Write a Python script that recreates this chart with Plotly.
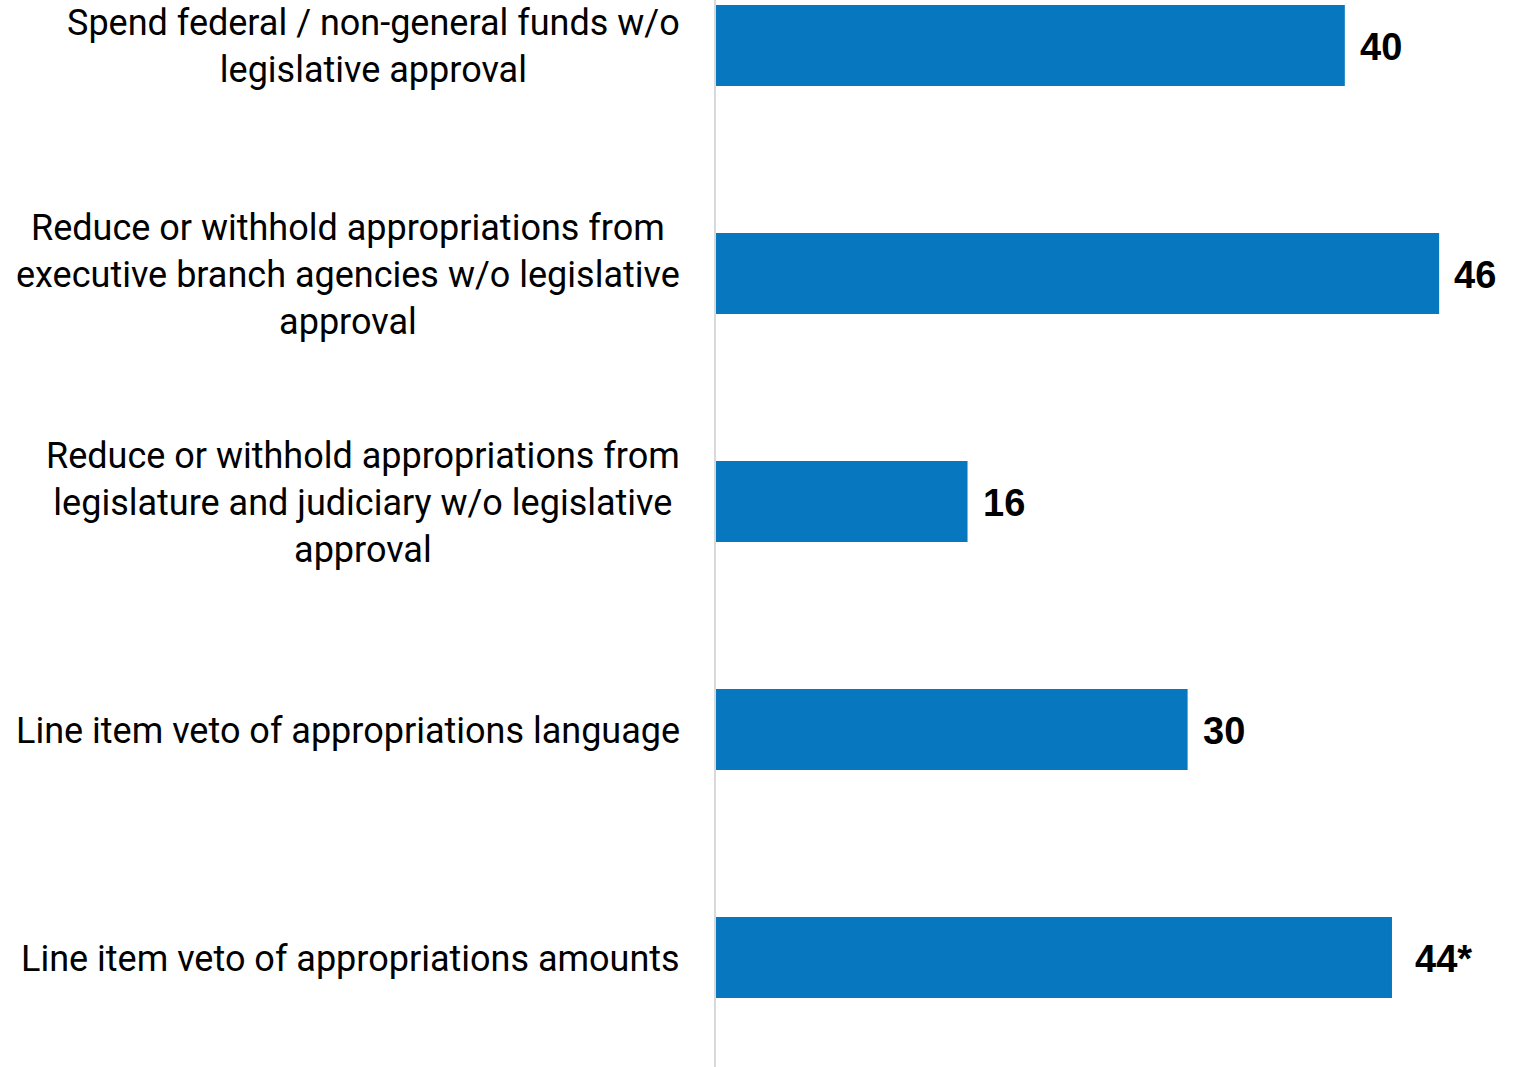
import plotly.graph_objects as go

categories = [
    "Spend federal / non-general funds w/o<br>legislative approval",
    "Reduce or withhold appropriations from<br>executive branch agencies w/o legislative<br>approval",
    "Reduce or withhold appropriations from<br>legislature and judiciary w/o legislative<br>approval",
    "Line item veto of appropriations language",
    "Line item veto of appropriations amounts",
]
values = [40, 46, 16, 30, 43]
value_labels = ["40", "46", "16", "30", "44*"]

BAR_COLOR = "#0777BF"

fig = go.Figure()
fig.add_trace(go.Bar(
    x=values,
    y=list(range(len(categories))),
    orientation="h",
    marker=dict(color=BAR_COLOR, line=dict(width=0)),
    hoverinfo="skip",
))

annotations = []
for i, (cat, v, lab) in enumerate(zip(categories, values, value_labels)):
    annotations.append(dict(
        x=0, xref="paper", y=i, yref="y",
        text=cat, showarrow=False, xanchor="right", yanchor="middle",
        align="center", xshift=-34, yshift=-1,
        font=dict(family="Roboto", size=36, color="#000000"),
    ))
    annotations.append(dict(
        x=v, xref="x", y=i, yref="y",
        text="<b>" + lab + "</b>", showarrow=False, xanchor="left", yanchor="middle",
        xshift=13 if not lab.endswith("*") else 21,
        yshift=-1,
        font=dict(family="Liberation Sans", size=38, color="#000000"),
    ))

fig.update_layout(
    width=1519, height=1067,
    margin=dict(l=716, r=0, t=0, b=0),
    paper_bgcolor="white", plot_bgcolor="white",
    bargap=0.645,
    showlegend=False,
    annotations=annotations,
    xaxis=dict(range=[0, 51.08], showgrid=False, zeroline=False, showticklabels=False, showline=False),
    yaxis=dict(range=[4.48, -0.1996], showgrid=False, zeroline=False, showticklabels=False,
               showline=True, linecolor="#D9D9D9", linewidth=2, ticks=""),
)

fig.write_html("out.html", config={"displayModeBar": False},
               post_script="document.body.style.margin='0px';")
